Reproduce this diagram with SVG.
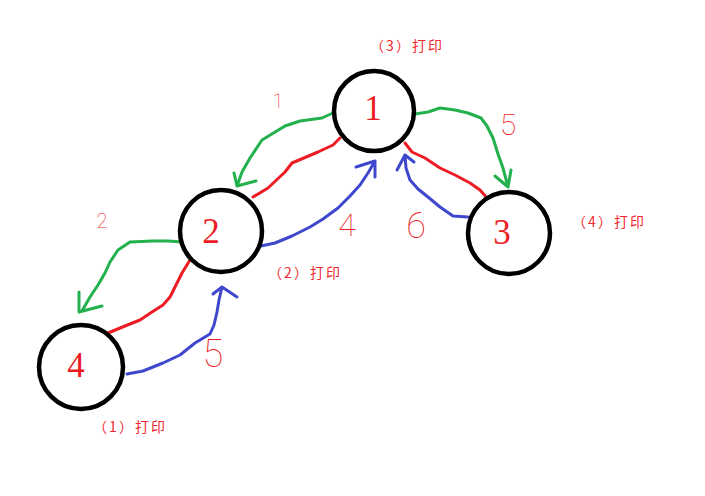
<svg xmlns="http://www.w3.org/2000/svg" width="705" height="496" viewBox="0 0 705 496">
<style>
.node{fill:#fff;stroke:#000;stroke-width:4.5}
.num{font-family:"Liberation Serif",serif;font-size:35px;fill:#ed1c24;text-anchor:middle}
.lbl{font-family:"Noto Sans CJK SC",sans-serif;font-size:14px;fill:#f0282e}
.hand{font-family:Roboto,"DejaVu Sans",sans-serif;font-weight:100;fill:#ed1c24;text-anchor:middle}
.g{fill:none;stroke:#22b14c;stroke-width:3;stroke-linejoin:round;stroke-linecap:round}
.r{fill:none;stroke:#ed1c24;stroke-width:3;stroke-linejoin:round;stroke-linecap:round}
.b{fill:none;stroke:#3f48cc;stroke-width:3;stroke-linejoin:round;stroke-linecap:round}
</style>
<rect width="705" height="496" fill="#fff"/>
<g id="connectors">
<path class="g" d="M333,113 L322,118 L300,121 L285,126 L262,140 L250,158 L242,172 L237,186 M234,173 L237,186 L256,181"/>
<path class="r" d="M253,197 L268,188 L285,172 L292,163 L318,152 L333,145 L340,138"/>
<path class="g" d="M415,114 L428,112 L440,108 L455,110 L468,113 L481,118 L487,126 L493,138 L498,154 L503,168 L508,187 M495,176 L508,187 L511,170"/>
<path class="r" d="M405,143 L412,152 L425,158 L440,168 L455,175 L470,183 L480,190 L487,198"/>
<path class="b" d="M468,217 L453,216 L440,207 L428,197 L418,189 L410,180 L406,168 L405,155 M397,170 L405,155 L414,162"/>
<path class="b" d="M261,246 L275,243 L292,236 L310,227 L323,219 L338,208 L350,196 L360,185 L368,173 L375,161 M356,167 L375,161 L375,177"/>
<path class="g" d="M183,242 L168,241 L152,241 L130,242 L118,250 L110,262 L105,273 L98,285 L90,297 L82,311 M79,292 L79,312 L102,306"/>
<path class="r" d="M108,333 L125,326 L140,320 L152,312 L163,305 L170,297 L176,285 L182,273 L190,260"/>
<path class="b" d="M127,374 L143,371 L163,363 L180,355 L195,343 L210,334 L214,325 L217,312 L219,300 L222,287 M213,294 L222,287 L237,297"/>
</g>
<g id="node1"><circle class="node" cx="374" cy="111" r="40"/><text class="num" x="373" y="120">1</text></g>
<g id="node2"><circle class="node" cx="221" cy="231" r="41"/><text class="num" x="211" y="243">2</text></g>
<g id="node3"><circle class="node" cx="509" cy="233" r="41"/><text class="num" x="502" y="244">3</text></g>
<g id="node4"><circle class="node" cx="81" cy="367" r="42"/><text class="num" x="76" y="377">4</text></g>
<g id="labels">
<text class="lbl" x="370" y="51" textLength="72" lengthAdjust="spacing">（3）打印</text>
<text class="lbl" x="268" y="278" textLength="72" lengthAdjust="spacing">（2）打印</text>
<text class="lbl" x="93" y="432" textLength="72" lengthAdjust="spacing">（1）打印</text>
<text class="lbl" x="572" y="227" textLength="72" lengthAdjust="spacing">（4）打印</text>
<text class="hand" x="278" y="108" font-size="20">1</text>
<text class="hand" x="508" y="135" font-size="30">5</text>
<text class="hand" x="102" y="228" font-size="20">2</text>
<text class="hand" x="347" y="236" font-size="32">4</text>
<text class="hand" x="416" y="238" font-size="36">6</text>
<text class="hand" x="213" y="367" font-size="38">5</text>
</g>
</svg>
